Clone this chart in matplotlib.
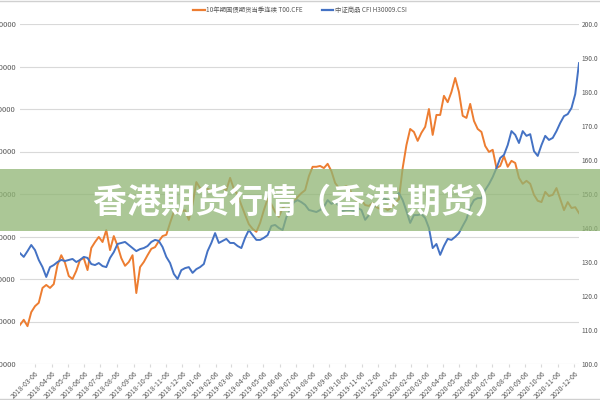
import numpy as np
import pandas as pd
import matplotlib
matplotlib.use("Agg")
import matplotlib.pyplot as plt
import matplotlib.dates as mdates
from matplotlib.patches import Rectangle
from matplotlib.lines import Line2D

plt.rcParams['font.family'] = ['Noto Sans CJK SC', 'DejaVu Sans']

# weekly closes
dates = pd.date_range('2018-02-06', periods=150, freq='7D')

t_bond = [
    92.92, 93.04, 92.89, 93.22, 93.36, 93.44, 93.79, 93.86, 93.79, 93.88,
    94.33, 94.56, 94.38, 94.07, 94.00, 94.19, 94.45, 94.49, 94.21, 94.73,
    94.87, 94.99, 94.87, 95.15, 94.68, 95.01, 94.78, 94.49, 94.31, 94.40,
    94.56, 93.67, 94.28, 94.40, 94.56, 94.71, 94.75, 94.89, 95.01, 95.04,
    95.32, 95.58, 95.58, 95.58, 95.62, 95.39, 95.76, 96.28, 96.14, 96.09,
    96.12, 96.09, 96.14, 96.12, 96.14, 96.09, 96.38, 96.12, 95.98, 95.74,
    95.51, 95.29, 95.18, 95.11, 95.32, 95.62, 95.88, 95.76, 95.58, 95.46,
    95.67, 95.74, 95.69, 95.81, 95.93, 96.02, 96.09, 96.42, 96.64, 96.64,
    96.66, 96.61, 96.71, 96.54, 96.26, 96.14, 96.14, 96.19, 96.09, 95.91,
    95.81, 95.86, 95.74, 95.72, 95.79, 95.69, 95.65, 95.69, 95.62, 95.69,
    95.79, 95.88, 96.61, 97.15, 97.53, 97.46, 97.25, 97.44, 97.58, 98.00,
    97.39, 97.86, 97.86, 98.31, 98.16, 98.40, 98.73, 98.40, 97.84, 97.79,
    98.12, 97.72, 97.53, 97.46, 97.13, 96.99, 97.04, 96.61, 96.66, 96.89,
    96.64, 96.78, 96.73, 96.38, 96.24, 96.31, 96.24, 95.98, 95.84, 95.81,
    96.05, 95.95, 95.98, 96.14, 95.88, 95.62, 95.81, 95.67, 95.69, 95.55,
]

cfi = [
    132.6, 131.5, 133.2, 135.0, 133.5, 130.6, 128.5, 125.6, 128.5, 129.1,
    130.0, 130.6, 130.3, 130.6, 130.9, 130.0, 130.6, 131.5, 131.2, 129.4,
    129.1, 129.7, 128.8, 128.5, 131.2, 132.9, 135.3, 135.6, 135.9, 135.0,
    134.1, 133.2, 133.8, 134.1, 134.7, 135.9, 136.5, 136.2, 134.4, 131.5,
    129.7, 126.5, 125.0, 127.6, 128.2, 128.5, 126.8, 127.9, 128.5, 129.4,
    133.2, 135.6, 138.5, 135.6, 136.2, 136.8, 135.6, 135.6, 134.7, 134.1,
    137.1, 139.4, 137.9, 136.5, 136.5, 137.1, 137.9, 140.6, 140.9, 140.0,
    139.4, 143.2, 145.3, 147.6, 148.2, 147.6, 146.8, 145.3, 145.0, 144.7,
    145.3, 146.2, 148.2, 147.1, 147.6, 146.5, 145.0, 145.3, 145.3, 145.0,
    145.9, 145.3, 142.4, 143.8, 145.9, 147.1, 147.9, 148.8, 148.2, 147.6,
    149.1, 150.3, 148.2, 145.0, 141.5, 143.8, 143.8, 144.1, 142.9, 140.0,
    134.1, 135.3, 132.1, 134.7, 136.8, 136.5, 137.4, 138.5, 140.6, 142.6,
    146.2, 148.2, 148.8, 148.8, 151.2, 152.9, 155.0, 157.6, 160.6, 161.5,
    164.4, 168.5, 167.4, 165.0, 168.5, 167.1, 167.6, 162.6, 161.2, 164.4,
    167.1, 165.9, 166.5, 168.5, 170.9, 172.9, 173.5, 175.3, 179.4, 188.5,
]

left_ticks = [92, 93, 94, 95, 96, 97, 98, 99, 100]
right_ticks = [100, 110, 120, 130, 140, 150, 160, 170, 180, 190, 200]
month_ticks = pd.date_range('2018-02-06', '2020-12-06', freq='MS') + pd.Timedelta(days=5)

ORANGE = '#ED7D31'
BLUE = '#4472C4'
GRID = '#D9D9D9'
TXT = '#595959'

fig = plt.figure(figsize=(6, 4), dpi=100)
ax = fig.add_axes([20 / 600, 36 / 400, 559 / 600, 340 / 400])
ax2 = ax.twinx()

ax.plot(dates, t_bond, color=ORANGE, lw=1.4, zorder=3)
ax2.plot(dates, cfi, color=BLUE, lw=1.4, zorder=3)

ax.set_ylim(left_ticks[0], left_ticks[-1])
ax.set_yticks(left_ticks)
ax.set_yticklabels([f'{v:.4f}' for v in left_ticks], fontsize=5.5, color=TXT)
ax2.set_ylim(right_ticks[0], right_ticks[-1])
ax2.set_yticks(right_ticks)
ax2.set_yticklabels([f'{v:.1f}' for v in right_ticks], fontsize=4.8, color=TXT)

ax.set_xlim(dates[0], dates[-1])
ax.set_xticks(month_ticks)
ax.xaxis.set_major_formatter(mdates.DateFormatter('%Y-%m-%d'))
for lab in ax.get_xticklabels():
    lab.set_rotation(45)
    lab.set_ha('right')
    lab.set_rotation_mode('anchor')
    lab.set_fontsize(5)
    lab.set_color(TXT)

ax.grid(axis='y', color=GRID, lw=0.8)
ax.set_axisbelow(True)
for a in (ax, ax2):
    for s in a.spines.values():
        s.set_visible(False)
ax.tick_params(axis='y', length=0, pad=3)
ax2.tick_params(axis='y', length=0, pad=2)
ax.tick_params(axis='x', length=2, color=GRID, pad=2)

# legend
leg_handles = [Line2D([], [], color=ORANGE, lw=1.6), Line2D([], [], color=BLUE, lw=1.6)]
fig.legend(leg_handles, ['10年期国债期货当季连续 T00.CFE', '中证商品 CFI H30009.CSI'],
           loc='center', bbox_to_anchor=(0.5, 1 - 10 / 400), ncol=2, frameon=False,
           fontsize=4.6, labelcolor=TXT, handlelength=1.8, handletextpad=0.2, columnspacing=3.0)

# frame lines at top and bottom
fig.add_artist(Line2D([0, 1], [0.998, 0.998], color='#D0D0D0', lw=1, transform=fig.transFigure))
fig.add_artist(Line2D([0, 1], [0.003, 0.003], color='#D0D0D0', lw=1, transform=fig.transFigure))

# green banner over the chart
fig.add_artist(Rectangle((0, 1 - 231 / 400), 1, 62 / 400, transform=fig.transFigure,
                         facecolor=(0.56, 0.71, 0.45), alpha=0.75, edgecolor='none', zorder=10))
fig.text(0.502, 1 - 202 / 400, '香港期货行情（香港 期货）', ha='center', va='center',
         fontsize=24.5, fontweight='bold', color='white', zorder=11)

fig.savefig('out.png', dpi=100)
